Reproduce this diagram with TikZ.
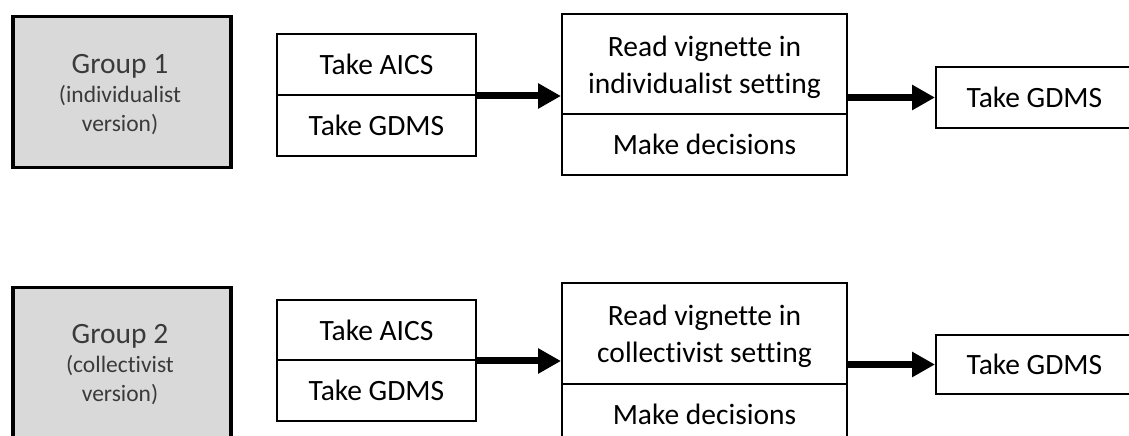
\documentclass[tikz,border=0pt]{standalone}
\usepackage{fontspec}
\setmainfont{Carlito}[Ligatures={NoCommon}]
\usetikzlibrary{arrows.meta}
\definecolor{groupfill}{HTML}{D9D9D9}
\definecolor{grouptext}{HTML}{3A3A3A}
\tikzset{
  box/.style={draw=black, line width=2bp, fill=white, inner sep=0pt, anchor=north west, align=center,
    font=\fontsize{29.5bp}{37bp}\selectfont, text=black},
  groupbox/.style={draw=black, line width=3.5bp, fill=groupfill, inner sep=0pt, anchor=north west,
    minimum width=218bp, minimum height=151bp},
  grouplabel/.style={align=center, text=grouptext, inner sep=0pt, font=\fontsize{23.5bp}{29bp}\selectfont},
  flow/.style={line width=7bp, -{Triangle[length=23bp,width=24bp]}},
}
\newcommand{\bigline}[1]{{\fontsize{29.5bp}{29bp}\selectfont #1}}
\begin{document}
\begin{tikzpicture}[x=1bp,y=-1bp]
\clip (0,0) rectangle (1129,436);
\fill[white] (0,0) rectangle (1129,436);
% ---- Row 1
\node[groupbox] (g1) at (11,15) {};
\node[grouplabel] (g1t) at (120,94.5) {\bigline{Group 1}\\(individualist\\version)};
\node[box, minimum width=199bp, minimum height=61bp] (a1) at (276,33) {Take AICS};
\node[box, minimum width=199bp, minimum height=61bp] (b1) at (276,94) {Take GDMS};
\node[box, minimum width=285bp, minimum height=100bp] (r1) at (561,13) {\rule{0pt}{27bp}Read vignette in\\individualist setting};
\node[box, minimum width=285bp, minimum height=61bp] (m1) at (561,113) {Make decisions};
\node[box, minimum width=197bp, minimum height=61bp] (t1) at (935,66) {Take GDMS};
\draw[flow] (a1.south east) -- (a1.south east -| r1.west);
\draw[flow] (t1.west -| r1.east) -- (t1.west);
% ---- Row 2
\node[groupbox] (g2) at (11,286) {};
\node[grouplabel] (g2t) at (120,365) {\bigline{Group 2}\\(collectivist\\version)};
\node[box, minimum width=199bp, minimum height=60bp] (a2) at (276,299) {Take AICS};
\node[box, minimum width=199bp, minimum height=61bp] (b2) at (276,359) {Take GDMS};
\node[box, minimum width=285bp, minimum height=101bp] (r2) at (561,282) {\rule{0pt}{27bp}Read vignette in\\collectivist setting};
\node[box, minimum width=285bp, minimum height=61bp] (m2) at (561,383) {Make decisions};
\node[box, minimum width=197bp, minimum height=59bp] (t2) at (935,334) {Take GDMS};
\draw[flow] (a2.south east) -- (a2.south east -| r2.west);
\draw[flow] (t2.west -| r2.east) -- (t2.west);
\end{tikzpicture}
\end{document}
